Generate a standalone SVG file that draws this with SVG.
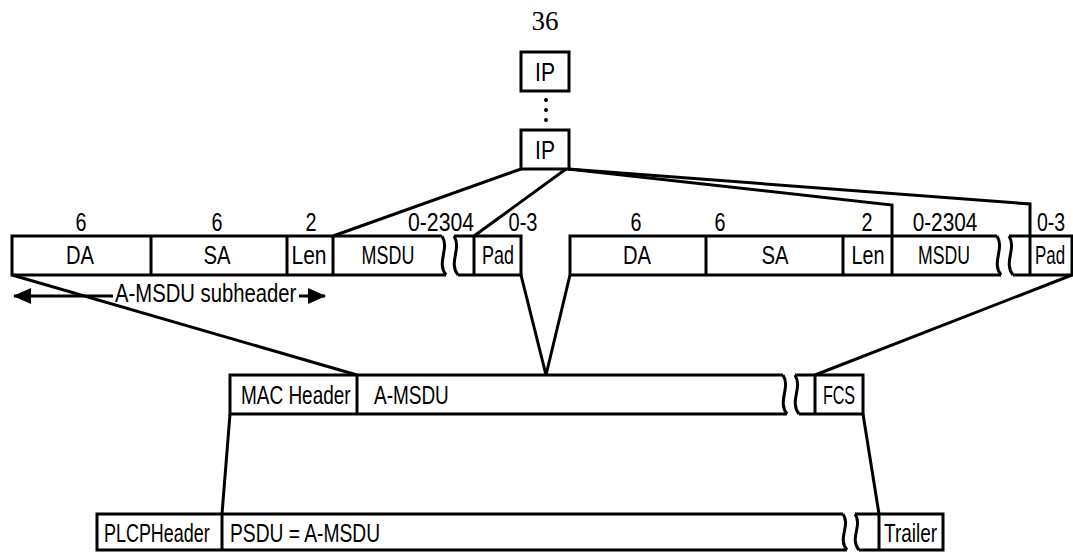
<svg xmlns="http://www.w3.org/2000/svg" width="1073" height="552" viewBox="0 0 1073 552">
<style>
.s{fill:none;stroke:#000;stroke-width:3;stroke-linejoin:miter}
.t{font-family:"Liberation Sans",Arial,sans-serif;font-size:26px;fill:#000}
.m{text-anchor:middle}
.n{font-family:"Liberation Serif","Times New Roman",serif;font-size:27px;fill:#000;text-anchor:middle}
</style>
<defs>
<marker id="ah" viewBox="0 0 18 16" refX="17" refY="8" markerWidth="18" markerHeight="16" markerUnits="userSpaceOnUse" orient="auto-start-reverse">
<path d="M0,0 L18,8 L0,16 Z" fill="#000"/>
</marker>
</defs>
<rect width="1073" height="552" fill="#fff"/>
<g id="page-number"><text class="n" x="545" y="30">36</text></g>

<g id="ip-top">
<rect class="s" x="521" y="52" width="48" height="39"/>
<text class="t m" transform="translate(545 81) scale(0.81 1)">IP</text>
</g>
<g id="ellipsis">
<circle cx="546" cy="100" r="2"/><circle cx="546" cy="110" r="2"/><circle cx="546" cy="120" r="2"/>
</g>
<g id="ip-bottom">
<rect class="s" x="521" y="130" width="48" height="39"/>
<text class="t m" transform="translate(545 159) scale(0.81 1)">IP</text>
</g>

<g id="subframe-1">
<path class="s" d="M442,236 H12 V275 H446"/>
<path class="s" d="M442,236 C450,249 436,262 446,275"/>
<path class="s" d="M454,236 C462,249 448,262 458,275"/>
<path class="s" d="M454,236 H521 V275 H458"/>
<path class="s" d="M151,236 V275 M287,236 V275 M333,236 V275 M474,236 V275"/>
<text class="t m" transform="translate(81 231) scale(0.76 1)">6</text>
<text class="t m" transform="translate(217 231) scale(0.76 1)">6</text>
<text class="t m" transform="translate(311 231) scale(0.76 1)">2</text>
<text class="t m" transform="translate(441 231) scale(0.816 1)">0-2304</text>
<text class="t m" transform="translate(523 231) scale(0.77 1)">0-3</text>
<text class="t m" transform="translate(80 264) scale(0.776 1)">DA</text>
<text class="t m" transform="translate(217 264) scale(0.78 1)">SA</text>
<text class="t m" transform="translate(309 264) scale(0.81 1)">Len</text>
<text class="t m" transform="translate(388 264) scale(0.69 1)">MSDU</text>
<text class="t m" transform="translate(498 264) scale(0.69 1)">Pad</text>
</g>

<g id="subheader-span">
<line class="s" x1="113" y1="296" x2="14" y2="296" marker-end="url(#ah)"/>
<line class="s" x1="299" y1="296" x2="325" y2="296" marker-end="url(#ah)"/>
<text class="t" transform="translate(115 302) scale(0.78 1)">A-MSDU subheader</text>
</g>

<g id="subframe-2">
<path class="s" d="M997,236 H570 V275 H1001"/>
<path class="s" d="M997,236 C1005,249 991,262 1001,275"/>
<path class="s" d="M1009,236 C1017,249 1003,262 1013,275"/>
<path class="s" d="M1009,236 H1072 V275 H1013"/>
<path class="s" d="M706,236 V275 M843,236 V275 M892,236 V275 M1030,236 V275"/>
<text class="t m" transform="translate(636 231) scale(0.76 1)">6</text>
<text class="t m" transform="translate(720 231) scale(0.76 1)">6</text>
<text class="t m" transform="translate(867 231) scale(0.76 1)">2</text>
<text class="t m" transform="translate(945 231) scale(0.80 1)">0-2304</text>
<text class="t m" transform="translate(1051 231) scale(0.75 1)">0-3</text>
<text class="t m" transform="translate(637 264) scale(0.776 1)">DA</text>
<text class="t m" transform="translate(775 264) scale(0.78 1)">SA</text>
<text class="t m" transform="translate(868 264) scale(0.76 1)">Len</text>
<text class="t m" transform="translate(944 264) scale(0.68 1)">MSDU</text>
<text class="t m" transform="translate(1050 264) scale(0.65 1)">Pad</text>
</g>

<g id="mac-frame">
<path class="s" d="M783,375 H230 V414 H787"/>
<path class="s" d="M783,375 C791,388 777,401 787,414"/>
<path class="s" d="M795,375 C803,388 789,401 799,414"/>
<path class="s" d="M795,375 H863 V414 H799"/>
<path class="s" d="M357,375 V414 M815,375 V414"/>
<text class="t" transform="translate(241 404) scale(0.73 1)">MAC Header</text>
<text class="t" transform="translate(374 404) scale(0.73 1)">A-MSDU</text>
<text class="t m" transform="translate(839 404) scale(0.62 1)">FCS</text>
</g>

<g id="plcp-frame">
<path class="s" d="M843,514 H97 V550 H847"/>
<path class="s" d="M843,514 C851,526 837,538 847,550"/>
<path class="s" d="M855,514 C863,526 849,538 859,550"/>
<path class="s" d="M855,514 H943 V550 H859"/>
<path class="s" d="M222,514 V550 M879,514 V550"/>
<text class="t" transform="translate(104 542) scale(0.69 1)">PLCPHeader</text>
<text class="t" transform="translate(230 542) scale(0.74 1)">PSDU = A-MSDU</text>
<text class="t" transform="translate(884 542) scale(0.73 1)">Trailer</text>
</g>

<g id="connectors">
<path class="s" d="M521,169 L333,236"/>
<path class="s" d="M566,169 L474,236"/>
<path class="s" d="M568,169 L892,205 V236"/>
<path class="s" d="M568,169 L1030,204 V236"/>
<path class="s" d="M12,275 L357,375"/>
<path class="s" d="M1072,275 L815,375"/>
<path class="s" d="M521,275 L546,375 L570,275"/>
<path class="s" d="M230,414 L222,514"/>
<path class="s" d="M863,414 L879,514"/>
</g>
</svg>
